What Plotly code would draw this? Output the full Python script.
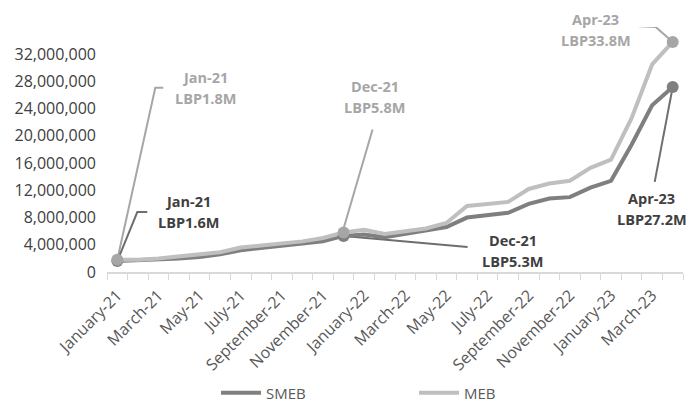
import plotly.graph_objects as go

months = ["January-21","February-21","March-21","April-21","May-21","June-21","July-21",
          "August-21","September-21","October-21","November-21","December-21",
          "January-22","February-22","March-22","April-22","May-22","June-22","July-22",
          "August-22","September-22","October-22","November-22","December-22",
          "January-23","February-23","March-23","April-23"]

smeb = [1.6e6,1.7e6,1.8e6,2.0e6,2.2e6,2.6e6,3.2e6,3.5e6,3.8e6,4.1e6,4.5e6,5.3e6,
        5.5e6,5.1e6,5.6e6,6.0e6,6.6e6,8.0e6,8.3e6,8.7e6,10.0e6,10.8e6,11.0e6,12.4e6,
        13.4e6,18.7e6,24.5e6,27.2e6]
meb = [1.8e6,1.8e6,2.0e6,2.3e6,2.5e6,2.9e6,3.6e6,3.9e6,4.1e6,4.5e6,5.0e6,5.8e6,
       6.2e6,5.6e6,6.0e6,6.4e6,7.2e6,9.7e6,10.0e6,10.3e6,12.2e6,13.0e6,13.4e6,15.3e6,
       16.5e6,22.6e6,30.5e6,33.8e6]

tick_text = [m if i % 2 == 0 else "" for i, m in enumerate(months)]
marked = [0, 11, 27]

SMEB_C = "#7f7f7f"
MEB_C = "#bfbfbf"
MEB_MK = "#a6a6a6"
SMEB_TXT = "#404040"
MEB_TXT = "#a6a6a6"
FONT = "Open Sans"

fig = go.Figure()
fig.add_trace(go.Scatter(x=months, y=smeb, mode="lines", name="SMEB",
                         line=dict(color=SMEB_C, width=4)))
fig.add_trace(go.Scatter(x=months, y=meb, mode="lines", name="MEB",
                         line=dict(color=MEB_C, width=4)))
fig.add_trace(go.Scatter(x=[months[i] for i in marked], y=[smeb[i] for i in marked],
                         mode="markers", showlegend=False, hoverinfo="skip",
                         marker=dict(color=SMEB_C, size=12)))
fig.add_trace(go.Scatter(x=[months[i] for i in marked], y=[meb[i] for i in marked],
                         mode="markers", showlegend=False, hoverinfo="skip",
                         marker=dict(color=MEB_MK, size=12)))

def fmt(v):
    return "LBP%.1fM" % (v / 1e6)

def short(m):
    return m[:3] + m[-3:]

# (series, index, xshift, yshift, leader path in pixels, text color, line color)
labels = [
    (meb, 0, 88, 172, "M0,0 L38,172 L46,172", MEB_TXT, MEB_MK),
    (smeb, 0, 71, 49, "M0,0 L20,49 L30,49", SMEB_TXT, "#6e6e6e"),
    (meb, 11, 31, 136, "M0,4 L29,103", MEB_TXT, MEB_MK),
    (smeb, 11, 169, -15, "M0,0 L124,-11", SMEB_TXT, "#6e6e6e"),
    (meb, 27, -77, 12, "M0,0 L-17,15 L-37,16", MEB_TXT, MEB_MK),
    (smeb, 27, -21, -122, "M0,0 L-18,-95", SMEB_TXT, "#6e6e6e"),
]
shapes = []
annotations = []
for ser, i, xs, ys, path, tc, lc in labels:
    shapes.append(dict(type="path", xref="x", yref="y", xsizemode="pixel", ysizemode="pixel",
                       xanchor=months[i], yanchor=ser[i], path=path,
                       line=dict(color=lc, width=2), layer="below"))
    for txt, dy in ((short(months[i]), 10.5), (fmt(ser[i]), -10.5)):
        annotations.append(dict(x=months[i], y=ser[i], xref="x", yref="y", showarrow=False,
                                xshift=xs, yshift=ys + dy, text="<b>%s</b>" % txt,
                                font=dict(family=FONT, size=14.5, color=tc), align="center"))

fig.update_layout(
    width=693, height=403,
    margin=dict(l=107, r=10, t=27, b=131, autoexpand=False),
    paper_bgcolor="white", plot_bgcolor="white",
    font=dict(family=FONT, color="#595959"),
    shapes=shapes, annotations=annotations,
    legend=dict(orientation="h", x=216 / 693, xanchor="left", xref="container",
                y=10 / 403, yanchor="middle", yref="container",
                font=dict(family=FONT, size=15, color="#595959"),
                entrywidth=143, itemwidth=40),
    showlegend=True,
)
fig.update_xaxes(type="category", categoryorder="array", categoryarray=months,
                 range=[-0.5, 27.5], tickmode="array", tickvals=months, ticktext=tick_text,
                 tickson="boundaries", ticks="outside", ticklen=6, tickcolor="#d9d9d9",
                 showline=True, linecolor="#d9d9d9", linewidth=1.5, showgrid=False,
                 automargin=False, ticklabelstandoff=6,
                 tickangle=-45, tickfont=dict(family=FONT, size=16, color="#595959"))
fig.update_yaxes(range=[0, 36e6], tickmode="array",
                 tickvals=[0, 4e6, 8e6, 12e6, 16e6, 20e6, 24e6, 28e6, 32e6],
                 tickformat=",d", showgrid=False, zeroline=False, showline=False,
                 ticks="", ticklabelstandoff=10, automargin=False,
                 tickfont=dict(family=FONT, size=16, color="#404040"))

fig.write_html("out.html", config={"displayModeBar": False},
               post_script="document.body.style.margin='0';document.body.style.overflow='hidden';")
